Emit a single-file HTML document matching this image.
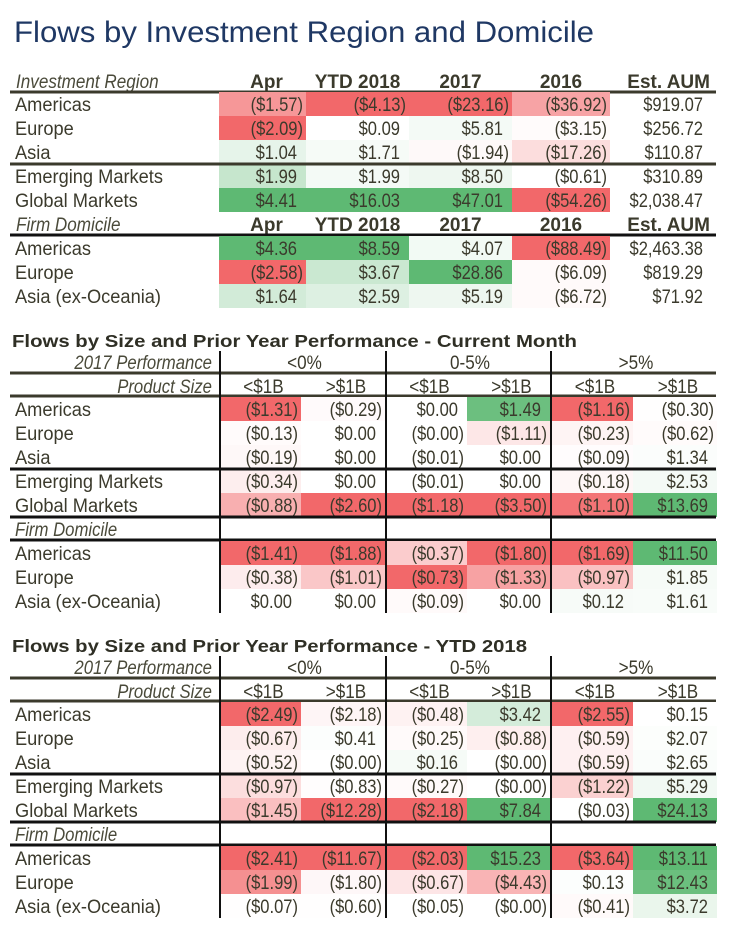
<!DOCTYPE html>
<html><head><meta charset="utf-8"><style>
html,body{margin:0;padding:0;background:#fff;}
svg{display:block;}
text{font-family:"Liberation Sans",sans-serif;}
</style></head><body>
<svg id="s" width="729" height="933" xmlns="http://www.w3.org/2000/svg">
<rect width="729" height="933" fill="#fff"/>
<text x="14" y="42" font-size="30" fill="#1f3864" textLength="580" lengthAdjust="spacingAndGlyphs">Flows by Investment Region and Domicile</text>
</svg>
<script>
// ---------- Table 1 data ----------
const t1Regions = ["Americas","Europe","Asia","Emerging Markets","Global Markets"];
const t1Firm = ["Americas","Europe","Asia (ex-Oceania)"];
const t1Headers = ["Apr","YTD 2018","2017","2016","Est. AUM"];
const t1Apr = [-1.57,-2.09,1.04,1.99,4.41], t1AprF = [4.36,-2.58,1.64];
const t1Ytd = [-4.13,0.09,1.71,1.99,16.03], t1YtdF = [8.59,3.67,2.59];
const t1Y17 = [-23.16,5.81,-1.94,8.50,47.01], t1Y17F = [4.07,28.86,5.19];
const t1Y16 = [-36.92,-3.15,-17.26,-0.61,-54.26], t1Y16F = [-88.49,-6.09,-6.72];
const t1Aum = [919.07,256.72,110.87,310.89,2038.47], t1AumF = [2463.38,819.29,71.92];
// ---------- Table 2 (current month) ----------
const perfGroups = ["<0%","0-5%",">5%"];
const sizeLabels = ["<$1B",">$1B","<$1B",">$1B","<$1B",">$1B"];
const t2Top = [
 [-1.31,-0.13,-0.19,-0.34,-0.88],
 [-0.29,0,0,0,-2.60],
 [0,-0,-0.01,-0.01,-1.18],
 [1.49,-1.11,0,0,-3.50],
 [-1.16,-0.23,-0.09,-0.18,-1.10],
 [-0.30,-0.62,1.34,2.53,13.69]];
const t2Firm = [
 [-1.41,-0.38,0],
 [-1.88,-1.01,0],
 [-0.37,-0.73,-0.09],
 [-1.80,-1.33,0],
 [-1.69,-0.97,0.12],
 [11.50,1.85,1.61]];
// ---------- Table 3 (YTD 2018) ----------
const t3Top = [
 [-2.49,-0.67,-0.52,-0.97,-1.45],
 [-2.18,0.41,-0,-0.83,-12.28],
 [-0.48,-0.25,0.16,-0.27,-2.18],
 [3.42,-0.88,-0,-0,7.84],
 [-2.55,-0.59,-0.59,-1.22,-0.03],
 [0.15,2.07,2.65,5.29,24.13]];
const t3Firm = [
 [-2.41,-1.99,-0.07],
 [-11.67,-1.80,-0.60],
 [-2.03,-0.67,-0.05],
 [15.23,-4.43,-0],
 [-3.64,0.13,-0.41],
 [13.11,12.43,3.72]];

const S = document.getElementById('s');
const NS = "http://www.w3.org/2000/svg";
const INK = "#3b3a2c";
function mk(tag, attrs, parent){const e=document.createElementNS(NS,tag);for(const k in attrs)e.setAttribute(k,attrs[k]);(parent||S).appendChild(e);return e;}
function txt(x,y,s,o){const e=mk('text',{x:x,y:y,'font-size':o.size||19,fill:o.fill||INK,'text-anchor':o.anchor||'start'});
 if(o.bold)e.setAttribute('font-weight','bold'); if(o.italic)e.setAttribute('font-style','italic');
 e.textContent=s;
 if(o.len){e.setAttribute('textLength',o.len);}
 else {const w=e.getComputedTextLength(); if(w>0) e.setAttribute('textLength',(w*(o.sq||0.96)).toFixed(1));}
 e.setAttribute('lengthAdjust','spacingAndGlyphs');
 return e;}
function fmt(v){const neg = v<0 || Object.is(v,-0);const a=Math.abs(v).toLocaleString('en-US',{minimumFractionDigits:2,maximumFractionDigits:2});return neg?'($'+a+')':'$'+a;}
function isNeg(v){return v<0||Object.is(v,-0);}
function color(v,arr,p,fl){
 const mn=Math.min(...arr,0), mx=Math.max(...arr,0);
 const dn=Math.max(-mn,fl*mx), dp=Math.max(mx,fl*-mn);
 let t=0, c=null;
 if(v<0 && dn>0){t=-v/dn;c=[242,104,106];}
 else if(v>0 && dp>0){t=v/dp;c=[94,185,115];}
 if(!c) return '#ffffff';
 t=Math.pow(Math.max(0,Math.min(1,t)),p);
 const r=Math.round(255+(c[0]-255)*t),g=Math.round(255+(c[1]-255)*t),b=Math.round(255+(c[2]-255)*t);
 return `rgb(${r},${g},${b})`;
}
function line(x1,y1,x2,y2,w,col,name){const l=mk('line',{x1,y1,x2,y2,stroke:col,'stroke-width':w});
 
 }
function cell(x0,x1,yc,v,arr,name,colored,p,fl){
 if(colored){const r=mk('rect',{x:x0,y:yc-12,width:x1-x0,height:24,fill:color(v,arr,p,fl)});
  
  }
 const t=txt(isNeg(v)?x1-3:x1-9, yc+7, fmt(v), {anchor:'end',sq:0.87});
 
 
}

// ===== Table 1 =====
const t1Cols=[[219,306],[306,409],[409,512],[512,610],[610,712]];
const t1Top=[t1Apr,t1Ytd,t1Y17,t1Y16,t1Aum], t1Bot=[t1AprF,t1YtdF,t1Y17F,t1Y16F,t1AumF];
function t1Header(yc,label,nm){
 const l=txt(16,yc+7,label,{italic:true,fill:'#4a4a3a',sq:0.9});
 
 
 t1Headers.forEach((h,i)=>{const c=t1Cols[i];const x=i==4?c[1]-2:(c[0]+c[1])/2+(i==0?4:0);
  const t=txt(x,yc+7,h,{bold:true,anchor:i==4?'end':'middle',sq:1});
  
  });
}
t1Header(81,"Investment Region","investment-region-header");
line(10,92,716,92,3,INK,'header-rule');
t1Regions.forEach((r,ri)=>{const yc=104+ri*24;
 const l=txt(15,yc+7,r,{});  
 t1Top.forEach((arr,ci)=>cell(t1Cols[ci][0],t1Cols[ci][1],yc,arr[ri],arr,'t1-cell',ci<4,1.3,0));
});
line(10,164,716,164,3,INK,'group-rule');
t1Header(224,"Firm Domicile","firm-domicile-header");
line(10,235,716,235,3,'#111','header-rule');
t1Firm.forEach((r,ri)=>{const yc=248+ri*24;
 const l=txt(15,yc+7,r,{});  
 t1Bot.forEach((arr,ci)=>cell(t1Cols[ci][0],t1Cols[ci][1],yc,arr[ri],arr,'t1-cell',ci<4,1.3,0));
});

// ===== Tables 2 & 3 =====
const cols=[[220,301],[301,385],[386,467],[467,550],[551,633],[633,717]];
function perfTable(y0,title,titleLen,top,firm,nm){
 const tt=txt(12,y0+22,title,{bold:true,size:17.5,fill:'#2f2f25',len:titleLen});
 
 
 const a=txt(212,y0+44,"2017 Performance",{italic:true,anchor:'end',fill:'#4a4a3a',sq:0.88});
  
 perfGroups.forEach((g,i)=>{const t=txt((cols[i*2][0]+cols[i*2+1][1])/2+2,y0+44,g,{anchor:'middle',sq:0.9});
   });
 line(10,y0+48,716,y0+48,3,INK,'header-rule');
 const b=txt(212,y0+68,"Product Size",{italic:true,anchor:'end',fill:'#4a4a3a',sq:0.88});
  
 sizeLabels.forEach((s,i)=>{const t=txt((cols[i][0]+cols[i][1])/2+3,y0+68,s,{anchor:'middle',sq:0.9});
   });
 line(10,y0+71,716,y0+71,3,INK,'header-rule');
 t1Regions.forEach((r,ri)=>{const yc=y0+84+ri*24;
  const l=txt(15,yc+7,r,{});  
  top.forEach((arr,ci)=>cell(cols[ci][0],cols[ci][1],yc,arr[ri],arr,nm+'-cell',true,1.6,0.45));
 });
 line(10,y0+144,716,y0+144,3,'#111','group-rule');
 line(10,y0+192,716,y0+192,3,'#111','group-rule');
 const f=txt(15,y0+211,"Firm Domicile",{italic:true,fill:'#4a4a3a',sq:0.88});
  
 line(10,y0+215,716,y0+215,3,'#111','group-rule');
 t1Firm.forEach((r,ri)=>{const yc=y0+228+ri*24;
  const l=txt(15,yc+7,r,{});  
  firm.forEach((arr,ci)=>cell(cols[ci][0],cols[ci][1],yc,arr[ri],arr,nm+'-cell',true,1.6,0.45));
 });
 [220,386,551].forEach(x=>line(x,y0+26,x,y0+288,2,'#111','column-divider'));
}
perfTable(325,"Flows by Size and Prior Year Performance - Current Month",565,t2Top,t2Firm,'current-month');
perfTable(630,"Flows by Size and Prior Year Performance - YTD 2018",515,t3Top,t3Firm,'ytd');
</script>
</body></html>
